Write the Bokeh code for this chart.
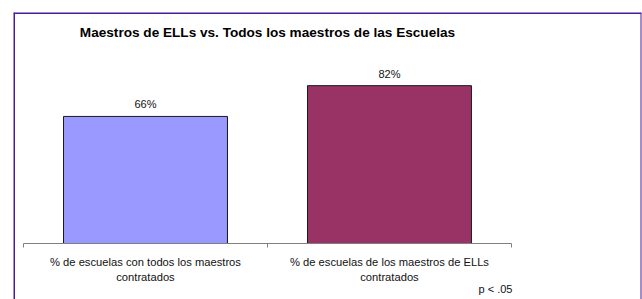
from bokeh.plotting import figure
from bokeh.models import LinearAxis, FixedTicker, Range1d, Label, ColumnDataSource, Span
from bokeh.core.properties import value
from bokeh.embed import file_html
from bokeh.resources import INLINE

title_text = "Maestros de ELLs vs. Todos los maestros de las Escuelas"
categories = ["% de escuelas con todos los maestros\ncontratados",
              "% de escuelas de los maestros de ELLs\ncontratados"]
values = [66, 82]
value_labels = ["66%", "82%"]
colors = ["#9999FF", "#993366"]
note = "p < .05"

FONT = "Liberation Sans"
BORDER = "#4a1c96"

xpos = [i + 0.5 for i in range(len(categories))]
src = ColumnDataSource(dict(x=xpos, top=values, color=colors, lab=value_labels))

xr = Range1d(-0.041, 2.533)
yr = Range1d(-29.1, 120.0)
p = figure(width=642, height=299, output_backend="svg", toolbar_location=None,
           x_axis_location=None, y_axis_location=None,
           x_range=xr, y_range=yr,
           min_border_left=13, min_border_top=12, min_border_right=1, min_border_bottom=0)
p.grid.visible = False
p.outline_line_color = None
p.background_fill_color = "white"
p.border_fill_color = "white"

# chart-area frame: left, top, right edges (bottom lies outside the picture)
p.add_layout(Span(location=xr.start, dimension="height", line_color=BORDER, line_width=3))
p.add_layout(Span(location=xr.end, dimension="height", line_color=BORDER, line_width=2))
p.add_layout(Span(location=yr.end, dimension="width", line_color=BORDER, line_width=3))

p.vbar(x="x", top="top", bottom=0, width=0.672, fill_color="color",
       line_color="#1a1a1a", line_width=1, source=src)

p.text(x="x", y="top", text="lab", source=src, text_align="center",
       text_baseline="bottom", y_offset=-6, text_font=value(FONT),
       text_font_size="11px", text_color="#111111")

# axis line with boundary ticks
ax1 = LinearAxis(ticker=FixedTicker(ticks=[0, 1, 2]), fixed_location=0)
ax1.major_label_text_color = None
ax1.axis_line_color = "#808080"
ax1.major_tick_line_color = "#808080"
ax1.major_tick_out = 4
ax1.major_tick_in = 0
ax1.minor_tick_line_color = None
ax1.bounds = (0, 2)
p.add_layout(ax1, "below")

# category labels
ax2 = LinearAxis(ticker=FixedTicker(ticks=xpos), fixed_location=0)
ax2.major_label_overrides = {x: c for x, c in zip(xpos, categories)}
ax2.axis_line_color = None
ax2.major_tick_line_color = None
ax2.minor_tick_line_color = None
ax2.major_label_standoff = 7
ax2.major_label_text_font = FONT
ax2.major_label_text_font_size = "11.2px"
ax2.major_label_text_color = "#111111"
p.add_layout(ax2, "below")

p.add_layout(Label(x=1.0, y=109.6, text=title_text, text_align="center",
                   text_baseline="middle", text_font=FONT, text_font_style="bold",
                   text_font_size="13.6px", text_color="#000000"))
p.add_layout(Label(x=2.004, y=-23.4, text=note, text_align="right",
                   text_baseline="middle", text_font=FONT,
                   text_font_size="11px", text_color="#111111"))

open("out.html", "w").write(file_html(p, INLINE))
